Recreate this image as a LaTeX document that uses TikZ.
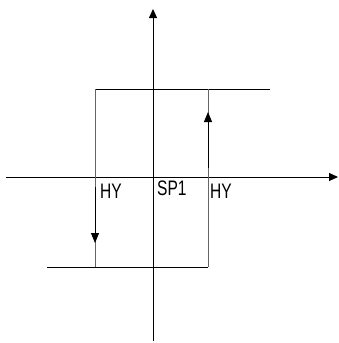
\documentclass[tikz,border=0pt]{standalone}
\usepackage{fontspec}
\setmainfont{Liberation Sans}
\usetikzlibrary{arrows.meta}
\begin{document}
\begin{tikzpicture}[x=1pt,y=-1pt,
  ax/.style={line width=1pt,black},
  rim/.style={line width=1pt,black!60},
  arr/.style={line width=1pt,black,-{Triangle[width=8pt,length=10pt]}},
  lbl/.style={anchor=base west,inner sep=0pt,font=\fontsize{21}{21}\selectfont,xscale=0.74}]
\useasboundingbox (0,0) rectangle (338,343);
% axes
\coordinate (xl) at (6,177);
\coordinate (xr) at (338,177);
\coordinate (yb) at (153,341);
\coordinate (yt) at (153,9);
\draw[ax,-{Triangle[width=8pt,length=9pt]}] (xl) -- (xr);
\draw[ax,-{Triangle[width=8pt,length=9pt]}] (yb) -- (yt);
% hysteresis loop
\coordinate (ul) at (95,89);
\coordinate (ur) at (270,89);
\coordinate (rt) at (208,89);
\coordinate (rb) at (208,267);
\coordinate (ll) at (47,267);
\coordinate (lb) at (95,267);
\draw[ax] (ul) -- (ur);
\draw[ax] (ll) -- (rb);
\draw[rim] (ul) -- (lb);
\draw[rim] (rt) -- (rb);
% direction arrows
\coordinate (ra0) at (208,168);
\coordinate (ra1) at (208,112);
\coordinate (la0) at (95,187);
\coordinate (la1) at (95,243);
\draw[arr] (ra0) -- (ra1);
\draw[arr] (la0) -- (la1);
% labels
\node[lbl] (hyl) at (100,198) {HY};
\node[lbl] (sp) at (157,195) {SP1};
\node[lbl] (hyr) at (210,198) {HY};
\end{tikzpicture}
\end{document}
